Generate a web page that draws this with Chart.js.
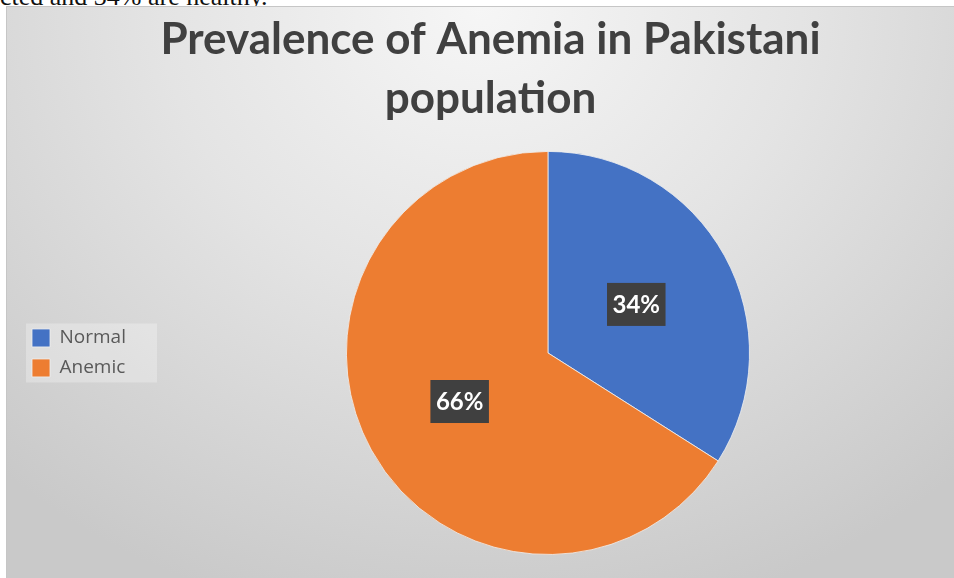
<!DOCTYPE html>
<html>
<head>
<title>Prevalence of Anemia in Pakistani population</title>
<script src="https://cdn.jsdelivr.net/npm/chart.js"></script>
<style>
  body { margin: 0; width: 954px; height: 578px; overflow: hidden; position: relative; background: #fff; }
  #note { position: absolute; left: 0; top: -16px; font: 26px 'Liberation Serif', serif; line-height: 26px; white-space: nowrap; color: #111; }
  #frame {
    position: absolute; left: 6px; top: 6px; width: 948px; height: 572px; overflow: hidden;
    border-top: 1px solid #c6c6c6; border-left: 1px solid #c6c6c6;
    background: radial-gradient(ellipse 75% 110% at 50% 0%, #f6f6f6 0%, #e4e4e4 45%, #c9c9c9 100%);
  }
  #wrap { position: absolute; left: 0; top: 0; width: 953px; height: 571px; }
</style>
</head>
<body>
<div id="note">cted and 34% are healthy.</div>
<div id="frame">
  <div id="wrap"><canvas id="myChart"></canvas></div>
</div>

<script>
// chart data
const labels = ['Normal', 'Anemic'];
const values = [34, 66];
const colors = ['#4472C4', '#ED7D31'];

// dark boxes with the percentage in the middle of each slice
const sliceLabels = {
  id: 'sliceLabels',
  afterDatasetsDraw(chart) {
    const ctx = chart.ctx;
    const meta = chart.getDatasetMeta(0);
    ctx.save();
    ctx.font = 'bold 24px Lato';
    ctx.textAlign = 'center';
    ctx.textBaseline = 'middle';
    meta.data.forEach((arc, i) => {
      const pos = arc.tooltipPosition();
      const text = values[i] + '%';
      const w = ctx.measureText(text).width + 11;
      const h = 43;
      ctx.fillStyle = '#404040';
      ctx.fillRect(pos.x - w / 2, pos.y - h / 2, w, h);
      ctx.fillStyle = '#ffffff';
      ctx.fillText(text, pos.x, pos.y + 1);
    });
    ctx.restore();
  }
};

// faint panel behind the legend
const legendPanel = {
  id: 'legendPanel',
  beforeDraw(chart) {
    const boxes = chart.legend && chart.legend.legendHitBoxes;
    if (!boxes || !boxes.length) return;
    const first = boxes[0], last = boxes[boxes.length - 1];
    const ctx = chart.ctx;
    ctx.save();
    ctx.fillStyle = 'rgba(255,255,255,0.28)';
    ctx.fillRect(first.left - 6, first.top - 5, 131, last.top + last.height - first.top + 10);
    ctx.restore();
  }
};

const config = {
  type: 'pie',
  data: {
    labels: labels,
    datasets: [{
      data: values,
      backgroundColor: colors,
      borderColor: 'rgba(240,240,240,0.8)',
      borderWidth: 1
    }]
  },
  options: {
    responsive: true,
    maintainAspectRatio: false,
    animation: false,
    layout: { padding: { left: 14, right: 0, top: 0, bottom: 23 } },
    plugins: {
      title: {
        display: true,
        text: ['Prevalence of Anemia in Pakistani', 'population'],
        color: '#404040',
        font: { family: 'Lato', size: 44, weight: 'bold', lineHeight: 1.34 },
        padding: { top: 3, bottom: 23 }
      },
      legend: {
        position: 'left',
        align: 'center',
        fullSize: false,
        labels: {
          boxWidth: 18,
          boxHeight: 18,
          padding: 11,
          color: '#595959',
          font: { family: 'Open Sans', size: 19 }
        }
      },
      tooltip: { enabled: false }
    }
  },
  plugins: [legendPanel, sliceLabels]
};

const myChart = new Chart(document.getElementById('myChart'), config);
</script>
</body>
</html>
